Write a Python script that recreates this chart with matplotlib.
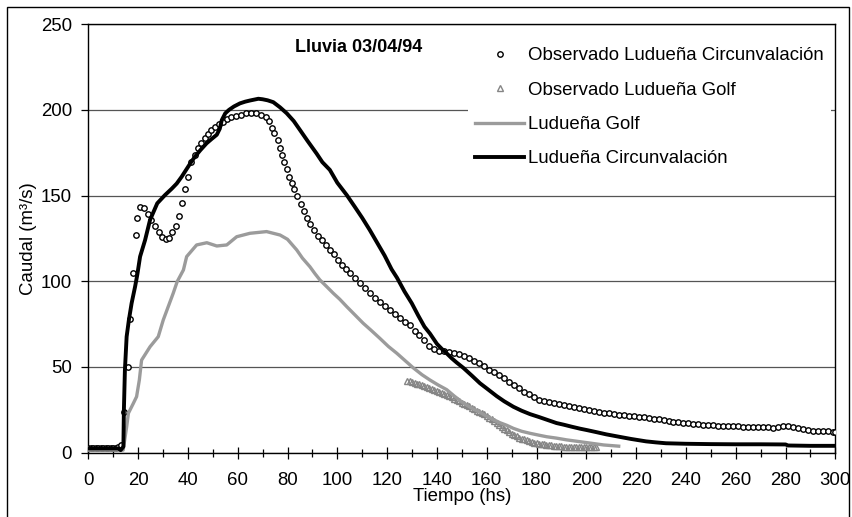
import matplotlib.pyplot as plt
from matplotlib.patches import Rectangle
from matplotlib.ticker import MultipleLocator

plt.rcParams["font.family"] = ["Liberation Sans", "DejaVu Sans"]

# Observado Ludueña Circunvalación (circles)
obs_circ_t = [
    0, 1, 2, 3, 4, 5, 6, 7, 8, 9, 10, 11, 12, 13,
    14.3, 15.9, 16.6, 17.8, 19.2, 19.7, 20.8, 22.3, 23.8, 25.3, 26.8, 28.3,
    29.8, 31.2, 32.5, 33.8, 35.2, 36.5, 37.5, 38.7, 40.0, 41.3, 42.7, 44.0,
    45.3, 46.7, 48.0, 49.4, 50.8, 52.4, 54.0, 55.6, 57.4, 59.4, 61.4, 63.4,
    65.4, 67.4, 69.4, 71.2, 72.6, 73.6, 74.7, 76.0, 76.8, 77.6, 78.5, 79.7,
    80.8, 81.7, 82.8, 84.0, 85.3, 86.5, 87.8, 89.2, 90.6, 92.2, 93.8, 95.4,
    97.0, 98.7, 100.3, 101.9, 103.5, 105.1, 107, 109, 111, 113, 115, 117,
    119, 121, 123, 125, 127, 129, 131, 133, 135, 137, 139, 141, 143, 145,
    147, 149, 151, 153, 155, 157, 159, 161, 163, 165, 167, 169, 171, 173,
    175, 177, 179, 181, 183, 185, 187, 189, 191, 193, 195, 197, 199, 201,
    203, 205, 207, 209, 211, 213, 215, 217, 219, 221, 223, 225, 227, 229,
    231, 233, 235, 237, 239, 241, 243, 245, 247, 249, 251, 253, 255, 257,
    259, 261, 263, 265, 267, 269, 271, 273, 275, 277, 279, 281, 283, 285,
    287, 289, 291, 293, 295, 297, 299, 300,
]
obs_circ_q = [
    3, 3, 3, 3, 3, 3, 3, 3, 3, 3, 3, 3, 3.5, 4.5,
    24, 50, 78, 105, 127, 137, 143.5, 142.5, 139, 135.5, 132, 129,
    126, 124.5, 125.5, 128.5, 132, 138, 145.5, 154, 161, 169.5, 173.5, 177.5,
    180.5, 183.5, 186, 188.5, 189.8, 191.5, 193, 194.5, 195.6, 196.4, 197.2, 198,
    198.4, 198.1, 197.2, 195.8, 193.7, 189.5, 186.3, 182.5, 177.6, 173.7, 169.8, 165.3,
    161, 157.5, 153.8, 149.8, 145, 141, 137, 133.3, 129.8, 126.5, 123.8, 121,
    118.5, 115.8, 112.5, 109.5, 107, 104.7, 101.8, 98.8, 96, 93, 90.5, 88,
    85.7, 83.3, 80.8, 78.4, 76.5, 74.5, 71.2, 68.5, 65.8, 62.5, 60.5, 59.5, 59.3, 59,
    58.3, 57.5, 56.5, 55, 53.5, 52.2, 50.5, 48.5, 47, 45.5, 43.5, 41.5, 39.5, 37.5,
    35.3, 34, 32.5, 31, 30, 29.3, 28.8, 28.3, 27.8, 27.3, 26.8, 26.2, 25.6, 25,
    24.5, 24, 23.4, 23, 22.6, 22.2, 21.8, 21.5, 21.2, 21, 20.6, 20.2, 19.8, 19.4,
    19, 18.5, 18.1, 17.8, 17.5, 17.2, 17, 16.7, 16.4, 16.2, 16, 15.8, 15.6, 15.5,
    15.4, 15.3, 15.2, 15.2, 15.2, 15.1, 15, 14.8, 14.6, 14.8, 15.4, 15.6, 15, 14.3,
    13.6, 13.2, 12.9, 12.8, 12.8, 12.5, 12.2, 12.3,
]

# Observado Ludueña Golf (triangles)
obs_golf_t = [
    128, 129, 130, 131, 132, 133, 134, 135, 136, 137, 138, 139, 140, 141,
    142, 143, 144, 145, 146, 147, 148, 149, 150, 151, 152, 153, 154, 155,
    156, 157, 158, 159, 160, 161, 162, 163, 164, 165, 166, 167, 168, 169,
    170, 171, 172, 173, 174, 175, 176, 177, 178, 179, 180, 181, 182, 183,
    184, 185, 186, 187, 188, 189, 190, 191, 192, 193, 194, 195, 196, 197,
    198, 199, 200, 201, 202, 203, 204,
]
obs_golf_q = [
    42, 41.6, 41.2, 40.7, 40.2, 39.8, 39.3, 38.8, 38.3, 37.8, 37.2, 36.6, 36, 35.4,
    34.8, 34.2, 33.6, 33, 32.3, 31.6, 30.8, 30, 29.2, 28.5, 27.7, 27, 26.2, 25.4,
    24.5, 23.7, 23, 22.3, 21.5, 20.5, 19.5, 18.4, 17.3, 16.1, 15, 14, 13, 12,
    11, 10.2, 9.5, 8.8, 8.2, 7.7, 7.2, 6.7, 6.3, 5.9, 5.6, 5.3, 5, 4.8,
    4.6, 4.4, 4.3, 4.1, 4, 3.8, 3.7, 3.6, 3.5, 3.4, 3.4, 3.3, 3.3, 3.2,
    3.2, 3.2, 3.2, 3.1, 3.1, 3.1, 3.1,
]

# Ludueña Golf (simulated)
sim_golf_t = [
    0, 14, 15.4, 16.1, 18.1, 19.4, 20.5, 21.4, 24.8, 28.1, 30.1, 32.1, 34.1,
    35.7, 38.2, 39.5, 43.5, 47.6, 51.6, 55.6, 59.6, 64.9, 71.6, 77, 80, 83.7,
    86, 89, 91, 93, 94.4, 96, 98.4, 101, 103.8, 107, 110.4, 113.5, 117.1,
    120.5, 123.9, 127, 130.5, 134, 137.2, 140.5, 143.9, 147, 150.6, 154,
    157.3, 161, 165.3, 168, 170.7, 174, 177.4, 181, 184.1, 188, 192, 197.5,
    202, 207, 213,
]
sim_golf_q = [
    1.5, 1.5, 15, 23, 28.8, 32.7, 42.4, 54, 61.8, 67.7, 77.4, 85.2, 93,
    99.8, 106.6, 114.4, 121.2, 122.5, 120.6, 121.2, 126, 128, 129, 127, 124.5, 118.3,
    113.5, 108.5, 104.5, 100.8, 98.8, 96.5, 93, 89.5, 85.2, 80.5, 75.5, 71.5, 66.7,
    62, 58, 54, 49.5, 45.5, 42.4, 39.5, 36.8, 33, 29, 26,
    23.5, 20.5, 17.5, 16, 14.2, 12.5, 11.3, 10.2, 9.3, 8.5, 7.5, 6.4,
    5.5, 4.5, 3.8,
]

# Ludueña Circunvalación (simulated)
sim_circ_t = [
    0, 12, 13, 14.1, 14.3, 14.7, 15.4, 16.3, 17.4, 18.8, 19.7, 20.8, 22.8,
    24.8, 27.7, 30.8, 33.5, 35.5, 37.5, 39.5, 41.5, 43, 45, 47.5, 49.5, 51.6,
    52.8, 53.6, 55, 56.5, 58.5, 60.9, 63, 65, 68.3, 70, 72, 74.3, 77, 79.7,
    82.5, 85, 88, 91.7, 94, 97, 100, 103.8, 107, 110, 113, 116, 119, 121.8,
    124, 127, 129.9, 132.5, 135, 137.2, 140, 142, 143.9, 146, 148, 150.6,
    154, 157.3, 160, 164, 167, 170.7, 174, 177.4, 181, 184, 188, 191, 194,
    197.5, 200.2, 204, 208, 213.5, 218, 224, 228, 232, 240, 250, 260, 270,
    280, 281, 290, 302,
]
sim_circ_q = [
    2.5, 2.5, 1.5, 3.5, 25, 48, 67.7, 77.4, 87.2, 96.9, 104, 114.4, 124,
    135.8, 145.5, 150.3, 154, 157, 161, 165.5, 170, 173, 176.5, 180.5, 183, 185.5,
    189, 194, 198, 200, 202, 203.8, 204.8, 205.5, 206.5, 206.2, 205.6, 204.5, 201.5, 198,
    193.5, 188.3, 182, 174.5, 169.5, 165, 157.5, 150.3, 143.5, 137, 130, 122.5, 115, 107,
    102, 94, 87.2, 80, 73.5, 69.5, 63.5, 60.5, 58, 55, 52.5, 49.5,
    45, 40.5, 37.5, 33, 30, 26.8, 24.5, 22.5, 20.8, 19.3, 17.3, 16.3, 15.2,
    14, 13.2, 12, 10.7, 9.2, 8, 6.6, 6, 5.5, 5.2, 5, 4.9, 4.9,
    4.8, 4.2, 4, 4,
]


def main() -> None:
    fig = plt.figure(figsize=(8.53, 5.17), dpi=100)
    ax = fig.add_axes([0.1035, 0.1244, 0.8758, 0.8288])

    ax.plot(
        obs_circ_t,
        obs_circ_q,
        linestyle="none",
        marker="o",
        markersize=3.9,
        markerfacecolor="white",
        markeredgecolor="black",
        markeredgewidth=1.0,
        label="Observado Ludueña Circunvalación",
        zorder=3,
    )
    ax.plot(
        obs_golf_t,
        obs_golf_q,
        linestyle="none",
        marker="^",
        markersize=4.4,
        markerfacecolor="none",
        markeredgecolor="#858585",
        markeredgewidth=1.0,
        label="Observado Ludueña Golf",
        zorder=3,
    )
    ax.plot(
        sim_golf_t,
        sim_golf_q,
        color="#9b9b9b",
        linewidth=2.4,
        label="Ludueña Golf",
        zorder=4,
    )
    ax.plot(
        sim_circ_t,
        sim_circ_q,
        color="black",
        linewidth=2.8,
        label="Ludueña Circunvalación",
        zorder=5,
    )

    ax.set_xlim(0, 300)
    ax.set_ylim(0, 250)
    ax.xaxis.set_major_locator(MultipleLocator(20))
    ax.xaxis.set_minor_locator(MultipleLocator(10))
    ax.yaxis.set_major_locator(MultipleLocator(50))

    ax.grid(axis="y", color="#555555", linewidth=0.9)
    ax.set_axisbelow(True)

    ax.tick_params(
        axis="x",
        which="major",
        direction="inout",
        length=8.4,
        width=0.9,
        pad=9.5,
        labelsize=13.4,
    )
    ax.tick_params(
        axis="x",
        which="minor",
        direction="inout",
        length=5.8,
        width=0.9,
    )
    ax.tick_params(
        axis="y",
        direction="out",
        length=4.8,
        width=0.9,
        pad=7.0,
        labelsize=13.4,
    )

    for spine in ax.spines.values():
        spine.set_linewidth(1.0)
        spine.set_color("black")

    ax.set_xlabel("Tiempo (hs)", fontsize=13.4)
    ax.set_ylabel("Caudal (m³/s)", fontsize=13.4)
    ax.xaxis.set_label_coords(0.5, -0.082)
    ax.yaxis.set_label_coords(-0.068, 0.5)

    ax.text(
        0.2767,
        0.9445,
        "Lluvia 03/04/94",
        transform=ax.transAxes,
        fontsize=13,
        fontweight="bold",
        ha="left",
        va="center",
    )

    legend = ax.legend(
        loc="upper left",
        bbox_to_anchor=(468 / 853, 1 - 40 / 517),
        bbox_transform=fig.transFigure,
        fontsize=13.4,
        handlelength=2.6,
        handletextpad=0.2,
        labelspacing=0.93,
        borderpad=0.4,
        borderaxespad=0,
        frameon=True,
        fancybox=False,
        framealpha=1,
    )
    legend.get_frame().set_edgecolor("white")
    legend.get_frame().set_linewidth(0)

    fig.patches.append(
        Rectangle(
            (7 / 853, -0.05),
            (849 - 7) / 853,
            1.05 - 7 / 517,
            transform=fig.transFigure,
            fill=False,
            edgecolor="black",
            linewidth=1.0,
        )
    )

    fig.savefig("out.png", dpi=100)
    plt.close(fig)


if __name__ == "__main__":
    main()
